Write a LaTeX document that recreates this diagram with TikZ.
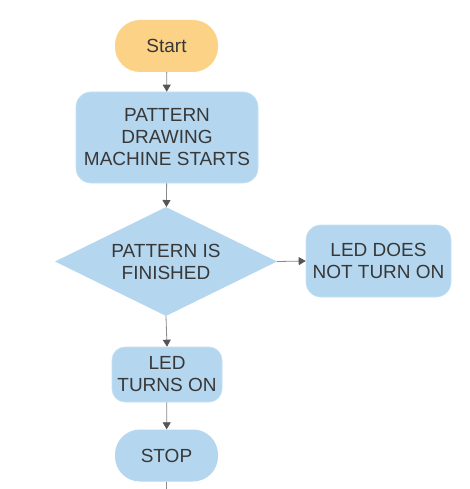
\documentclass[tikz,border=0pt]{standalone}
\usepackage{fontspec}
\setmainfont{Liberation Sans}
\usetikzlibrary{shapes.geometric,arrows.meta}
\definecolor{startfill}{HTML}{FCD286}
\definecolor{boxfill}{HTML}{B4D7EF}
\definecolor{boxline}{HTML}{C4E0F3}
\definecolor{txt}{HTML}{383838}
\definecolor{arrowline}{HTML}{8A8A8A}
\definecolor{arrowhead}{HTML}{555555}
\tikzset{
  base/.style={inner sep=0pt, align=center, text=txt, font=\fontsize{19}{22}\selectfont},
  terminal/.style={base, rounded corners=25pt, minimum width=103pt, minimum height=52pt},
  procbox/.style={base, draw=boxline, line width=0.6pt, fill=boxfill, rounded corners=15pt},
  decision/.style={base, diamond, fill=boxfill, aspect=2, minimum width=222pt, minimum height=109pt},
  flow/.style={draw=arrowline, line width=0.8pt, -{Triangle[width=8pt,length=7pt,color=arrowhead]}},
  plain/.style={draw=arrowline, line width=0.8pt}
}
\begin{document}
\begin{tikzpicture}[x=1pt,y=-1pt]
\useasboundingbox[fill=white] (0,0) rectangle (469,489);
\node[terminal, fill=startfill] (start) at (166.5,46) {Start};
\node[procbox, minimum width=182pt, minimum height=91pt] (pattern) at (167,137.5) {PATTERN\\DRAWING\\MACHINE STARTS};
\node[decision] (check) at (166,261.5) {PATTERN IS\\FINISHED};
\node[procbox, minimum width=145pt, minimum height=72pt] (nolight) at (378.5,261) {LED DOES\\NOT TURN ON};
\node[procbox, minimum width=110pt, minimum height=55pt, rounded corners=13pt] (light) at (167,374.5) {LED\\TURNS ON};
\node[terminal, fill=boxfill] (stop) at (166.5,455.5) {STOP};
\coordinate (bottom) at (166.5,489);
\draw[flow] (start) -- (pattern);
\draw[flow] (pattern) -- (check);
\draw[flow] (check.east) -- (nolight.west);
\draw[flow] (check.south) -- (light.north);
\draw[flow] (light) -- (stop);
\draw[plain] (stop.south) -- (bottom);
\end{tikzpicture}
\end{document}
